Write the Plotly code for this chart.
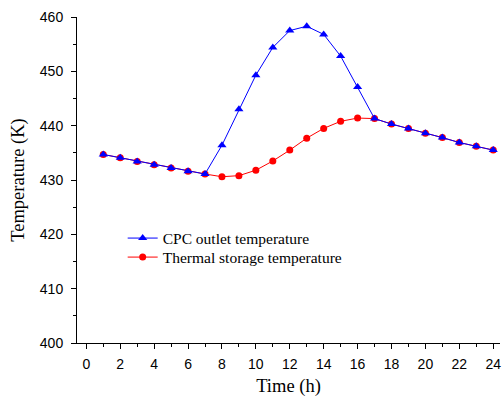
import plotly.graph_objects as go

hours = list(range(1, 25))
cpc_outlet = [434.7, 434.1, 433.4, 432.8, 432.2, 431.6, 431.1, 436.4, 443.0, 449.3, 454.4, 457.5,
              458.3, 456.8, 452.8, 447.1, 441.3, 440.3, 439.5, 438.6, 437.8, 436.9, 436.2, 435.5]
storage = [434.7, 434.1, 433.4, 432.8, 432.2, 431.6, 431.1, 430.6, 430.8, 431.8, 433.5, 435.5,
           437.7, 439.5, 440.8, 441.4, 441.3, 440.3, 439.5, 438.6, 437.8, 436.9, 436.2, 435.5]

fig = go.Figure()
fig.add_trace(go.Scatter(x=hours, y=storage, mode="lines+markers", name="Thermal storage temperature",
                         line=dict(color="#ff0000", width=1), marker=dict(symbol="circle", size=7, color="#ff0000"),
                         legend="legend2"))
fig.add_trace(go.Scatter(x=hours, y=cpc_outlet, mode="lines+markers", name="CPC outlet temperature",
                         line=dict(color="#0000ff", width=1), marker=dict(symbol="triangle-up", size=8, color="#0000ff"),
                         legend="legend"))

axis_common = dict(showline=True, linecolor="black", linewidth=1, ticks="outside", ticklen=5,
                   tickcolor="black", showgrid=False, zeroline=False, mirror=False,
                   tickfont=dict(family="Liberation Sans, Arial", size=14, color="black"))

fig.update_xaxes(range=[-0.55, 24.4], tick0=0, dtick=2,
                 minor=dict(ticks="outside", ticklen=3, dtick=1, tick0=0, tickcolor="black"),
                 ticklabelstandoff=3,
                 title=dict(text="Time (h)", font=dict(family="Liberation Serif, Times New Roman", size=18.5, color="black"), standoff=9),
                 **axis_common)
fig.update_yaxes(range=[400, 460], tick0=400, dtick=10,
                 minor=dict(ticks="outside", ticklen=3, dtick=5, tick0=400, tickcolor="black"),
                 ticklabelstandoff=5,
                 title=dict(text="Temperature (K)", font=dict(family="Liberation Serif, Times New Roman", size=18.5, color="black"), standoff=10),
                 **axis_common)

legend_font = dict(family="Liberation Serif, Times New Roman", size=15.5, color="black")
fig.update_layout(width=503, height=397, margin=dict(l=77, r=3, t=17, b=54),
                  plot_bgcolor="white", paper_bgcolor="white",
                  legend=dict(x=0.108, y=0.3727, xanchor="left", yanchor="top", bgcolor="rgba(0,0,0,0)",
                              font=legend_font, itemwidth=30),
                  legend2=dict(x=0.108, y=0.3144, xanchor="left", yanchor="top", bgcolor="rgba(0,0,0,0)",
                               font=legend_font, itemwidth=30),
                  showlegend=True)

fig.write_html("out.html")
